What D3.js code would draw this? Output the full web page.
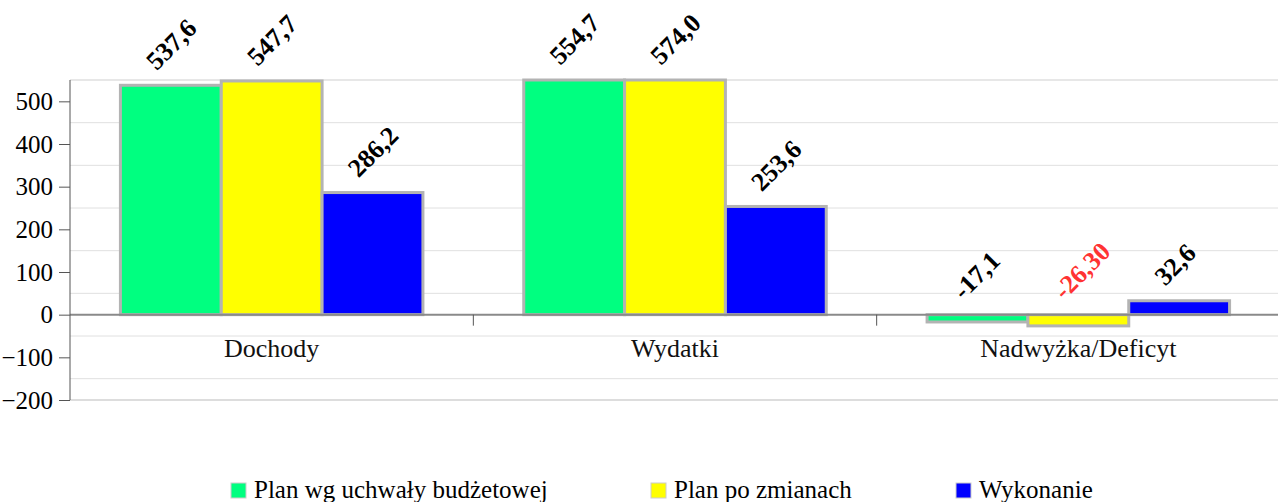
<!DOCTYPE html>
<html>
<head>
<meta charset="utf-8">
<script src="https://cdn.jsdelivr.net/npm/d3@7"></script>
<style>
  body { margin: 0; background: #fff; }
  svg text { font-family: "Liberation Serif", "Times New Roman", serif; }
</style>
</head>
<body>
<svg width="1278" height="502" font-family="Liberation Serif, serif"></svg>
<script>
var categories = ["Dochody", "Wydatki", "Nadwyżka/Deficyt"];
var seriesNames = ["Plan wg uchwały budżetowej", "Plan po zmianach", "Wykonanie"];
var seriesColors = ["#00ff80", "#ffff00", "#0000ff"];
var planUchwala = [537.6, 554.7, -17.1];
var planZmiany = [547.7, 574.0, -26.3];
var wykonanie = [286.2, 253.6, 32.6];
var labelsUchwala = ["537,6", "554,7", "-17,1"];
var labelsZmiany = ["547,7", "574,0", "-26,30"];
var labelsWykonanie = ["286,2", "253,6", "32,6"];
var yTicks = [500, 400, 300, 200, 100, 0, -100, -200];
var yGrid = [550, 450, 350, 250, 150, 50, -50, -150];

var series = [planUchwala, planZmiany, wykonanie];
var seriesLabels = [labelsUchwala, labelsZmiany, labelsWykonanie];

var svg = d3.select("svg"),
  left = 70, right = 1280;

var x0 = d3.scaleBand().domain(categories).range([left, right]);
var x1 = d3.scaleBand().domain(d3.range(3)).range([0, x0.bandwidth()]).paddingOuter(0.5);
var y = d3.scaleLinear().domain([-200, 550]).range([400, 80]).clamp(true);

// minor grid lines
svg.append("g").selectAll("line")
  .data(yGrid)
  .enter().append("line")
  .attr("x1", left).attr("x2", 1278)
  .attr("y1", function (d) { return y(d); })
  .attr("y2", function (d) { return y(d); })
  .attr("stroke", function (d) { return d == 550 ? "#cfcfcf" : "#e0e0e0"; })
  .attr("stroke-width", 1);

svg.append("line")
  .attr("x1", left).attr("x2", 1278)
  .attr("y1", y(-200)).attr("y2", y(-200))
  .attr("stroke", "#bbb");

// bars
var data = [];
categories.forEach(function (c, i) {
  series.forEach(function (s, j) {
    data.push({cat: c, s: j, v: s[i], label: seriesLabels[j][i]});
  });
});

svg.append("g").selectAll("rect")
  .data(data)
  .enter().append("rect")
  .attr("x", function (d) { return x0(d.cat) + x1(d.s); })
  .attr("width", x1.bandwidth())
  .attr("y", function (d) { return Math.min(y(d.v), y(0)); })
  .attr("height", function (d) { return Math.abs(y(d.v) - y(0)); })
  .attr("fill", function (d) { return seriesColors[d.s]; })
  .attr("stroke", "#b3b3b3")
  .attr("stroke-width", 3);

// zero line
svg.append("line")
  .attr("x1", left).attr("x2", 1278)
  .attr("y1", y(0)).attr("y2", y(0))
  .attr("stroke", "#8a8a8a")
  .attr("stroke-width", 2);

// value labels
svg.append("g").selectAll("text")
  .data(data)
  .enter().append("text")
  .attr("transform", function (d) {
    var cx = x0(d.cat) + x1(d.s) + x1.bandwidth() / 2;
    var top = Math.min(y(d.v), y(0));
    return "translate(" + (cx - 14) + "," + (top - 14) + ") rotate(-45)";
  })
  .attr("font-family", "Liberation Serif, serif")
  .attr("font-size", 26)
  .attr("font-weight", "bold")
  .attr("fill", function (d) { return d.label == "-26,30" ? "#ff3333" : "#000"; })
  .text(function (d) { return d.label; });

// y axis
var yAxis = svg.append("g")
  .attr("transform", "translate(" + left + ",0)")
  .call(d3.axisLeft(y).tickValues(yTicks).tickSize(11).tickPadding(6).tickFormat(d3.format("d")))
  .attr("font-family", "Liberation Serif, serif");
yAxis.select(".domain").attr("d", "M0," + y(550) + "V" + y(-200)).attr("stroke", "#555");
yAxis.selectAll(".tick line").attr("stroke", "#555");
yAxis.selectAll(".tick text")
  .attr("font-family", "Liberation Serif, serif")
  .attr("font-size", 25)
  .attr("fill", "#000");

// category ticks and labels
svg.append("g").selectAll("line")
  .data(categories.slice(1))
  .enter().append("line")
  .attr("x1", function (d) { return x0(d); })
  .attr("x2", function (d) { return x0(d); })
  .attr("y1", y(0)).attr("y2", y(0) + 11)
  .attr("stroke", "#555");

svg.append("g").selectAll("text")
  .data(categories)
  .enter().append("text")
  .attr("x", function (d) { return x0(d) + x0.bandwidth() / 2; })
  .attr("y", 357)
  .attr("text-anchor", "middle")
  .attr("font-size", 26)
  .attr("fill", "#111")
  .text(function (d) { return d; });

// legend
var legendX = [231, 651, 956];
var legend = svg.append("g").selectAll("g")
  .data(seriesNames)
  .enter().append("g")
  .attr("transform", function (d, i) { return "translate(" + legendX[i] + ",483)"; });
legend.append("rect")
  .attr("width", 15).attr("height", 15)
  .attr("fill", function (d, i) { return seriesColors[i]; })
  .attr("stroke", "#ccc").attr("stroke-width", 1);
legend.append("text")
  .attr("x", 23).attr("y", 15)
  .attr("font-size", 25)
  .attr("fill", "#000")
  .text(function (d) { return d; });
</script>
</body>
</html>
